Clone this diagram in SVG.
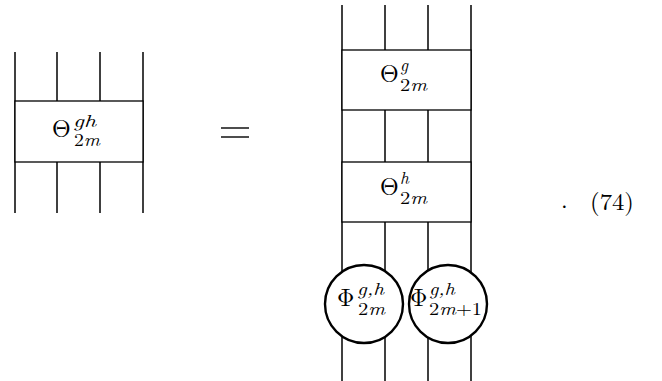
<svg xmlns="http://www.w3.org/2000/svg" width="662" height="381" viewBox="0 0 662 381">
<style>
.l{stroke:#000;stroke-width:1.5;fill:none}
.b{stroke:#000;stroke-width:1.3;fill:#fff}
.c{stroke:#000;stroke-width:2.4;fill:#fff}
text{font-family:"Latin Modern Roman","Latin Modern Math","DejaVu Serif",serif;fill:#000}
.m{font-size:24px}
.s{font-size:17.5px}
.i{font-style:italic}
</style>
<g id="connectors">
<line class="l" x1="15" y1="52" x2="15" y2="213"/>
<line class="l" x1="57" y1="52" x2="57" y2="213"/>
<line class="l" x1="100" y1="52" x2="100" y2="213"/>
<line class="l" x1="143" y1="52" x2="143" y2="213"/>
<line class="l" x1="342" y1="5" x2="342" y2="381"/>
<line class="l" x1="385" y1="5" x2="385" y2="381"/>
<line class="l" x1="428" y1="5" x2="428" y2="381"/>
<line class="l" x1="471" y1="5" x2="471" y2="381"/>
</g>
<g id="theta-gh">
<rect class="b" x="15" y="101" width="128" height="61"/>
<text x="52" y="137" class="m">Θ</text>
<text x="73" y="127" class="s i" textLength="23" lengthAdjust="spacingAndGlyphs">gh</text>
<text x="74" y="146" class="s" textLength="26" lengthAdjust="spacingAndGlyphs">2<tspan class="i">m</tspan></text>
</g>
<g id="equals">
<line x1="221" y1="128" x2="249" y2="128" stroke="#000" stroke-width="1.4"/>
<line x1="221" y1="137" x2="249" y2="137" stroke="#000" stroke-width="1.4"/>
</g>
<g id="theta-g">
<rect class="b" x="342" y="50" width="129" height="60"/>
<text x="380" y="82" class="m">Θ</text>
<text x="400" y="71" class="s i">g</text>
<text x="400" y="91" class="s" textLength="27" lengthAdjust="spacingAndGlyphs">2<tspan class="i">m</tspan></text>
</g>
<g id="theta-h">
<rect class="b" x="342" y="162" width="129" height="60"/>
<text x="380" y="195" class="m">Θ</text>
<text x="400" y="184" class="s i">h</text>
<text x="400" y="204" class="s" textLength="27" lengthAdjust="spacingAndGlyphs">2<tspan class="i">m</tspan></text>
</g>
<g id="phi-2m">
<circle class="c" cx="364" cy="304" r="39"/>
<text x="337" y="306" class="m">Φ</text>
<text x="357" y="295" class="s i" textLength="27" lengthAdjust="spacingAndGlyphs">g,h</text>
<text x="358" y="315" class="s" textLength="27" lengthAdjust="spacingAndGlyphs">2<tspan class="i">m</tspan></text>
</g>
<g id="phi-2m1">
<circle class="c" cx="448" cy="304" r="39"/>
<text x="410" y="306" class="m">Φ</text>
<text x="429" y="295" class="s i" textLength="26" lengthAdjust="spacingAndGlyphs">g,h</text>
<text x="429" y="315" class="s" textLength="53" lengthAdjust="spacingAndGlyphs">2<tspan class="i">m</tspan>+1</text>
</g>
<g id="label">
<text x="561" y="208" class="m">.</text>
<text x="590" y="210" class="m" textLength="44" lengthAdjust="spacingAndGlyphs">(74)</text>
</g>
</svg>
